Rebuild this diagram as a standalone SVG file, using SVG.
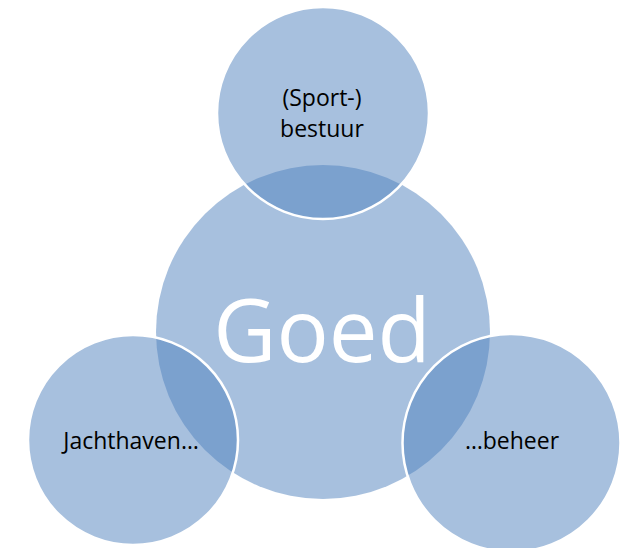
<svg xmlns="http://www.w3.org/2000/svg" width="627" height="548" viewBox="0 0 627 548">
<style>
.c{fill:#4F81BD;fill-opacity:0.5;stroke:#FFFFFF;stroke-width:2.5}
.m{fill:#4F81BD;fill-opacity:0.5}
.t{font-family:"Open Sans","Liberation Sans",sans-serif;font-size:23px;fill:#000000;text-anchor:middle}
.g{font-family:"Open Sans","Liberation Sans",sans-serif;font-size:87px;fill:#FFFFFF;text-anchor:middle}
</style>
<rect width="627" height="548" fill="#FFFFFF"/>
<g id="goed">
<circle class="m" cx="323" cy="332" r="167"/>
<text class="g" x="322" y="362">Goed</text>
</g>
<g id="bestuur">
<circle class="c" cx="323" cy="113" r="106"/>
<text class="t" x="322" y="106">(Sport-)</text>
<text class="t" x="322" y="137">bestuur</text>
</g>
<g id="jachthaven">
<circle class="c" cx="133" cy="440" r="105"/>
<text class="t" x="131" y="449">Jachthaven…</text>
</g>
<g id="beheer">
<circle class="c" cx="511.5" cy="443" r="109"/>
<text class="t" x="512" y="449">…beheer</text>
</g>
<g id="connectors"></g>
</svg>
